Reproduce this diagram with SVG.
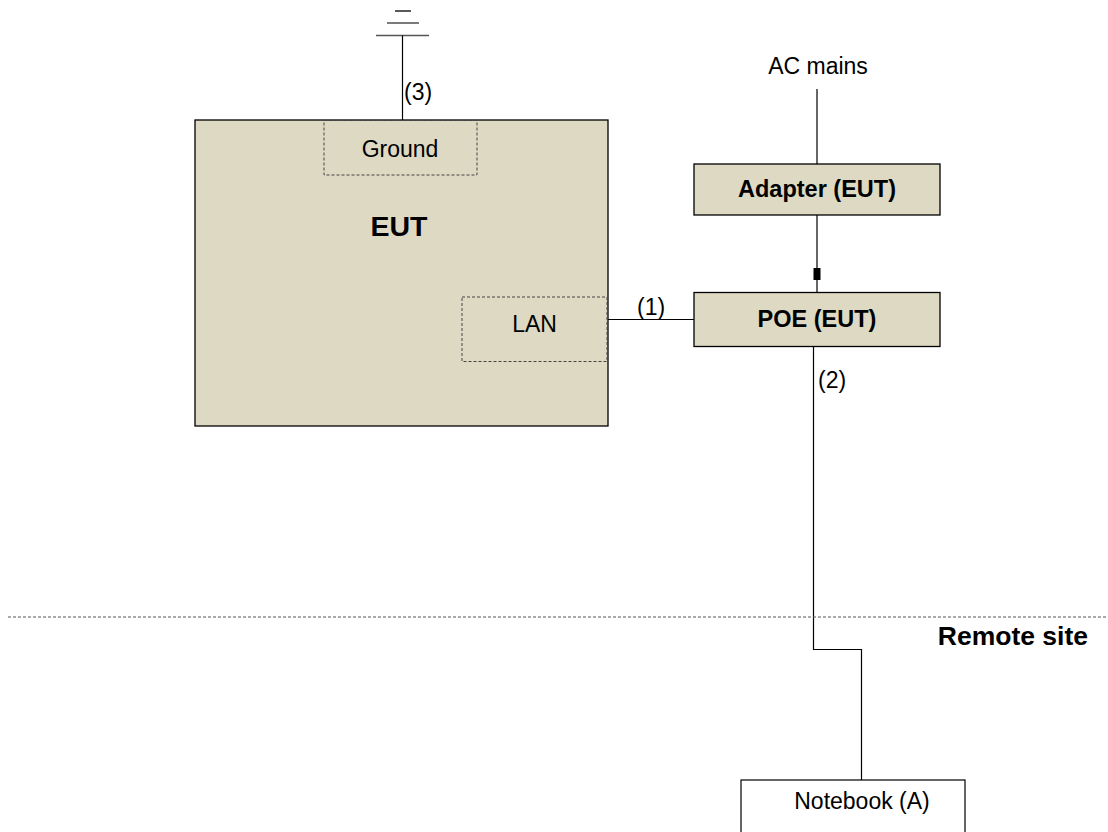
<svg xmlns="http://www.w3.org/2000/svg" width="1108" height="832" viewBox="0 0 1108 832">
<style>
text{font-family:"Liberation Sans",Arial,sans-serif;fill:#000}
.r{font-size:23px}
.b{font-size:23.5px;font-weight:bold}
.box{fill:#ddd9c3;stroke:#000;stroke-width:1.3}
.dash{fill:none;stroke:#444;stroke-width:1;stroke-dasharray:3,2}
.ln{fill:none;stroke:#000;stroke-width:1.2}
</style>
<rect width="1108" height="832" fill="#fff"/>
<g id="ground-symbol">
<line x1="395" y1="11" x2="411" y2="11" stroke="#000" stroke-width="1.3"/>
<line x1="387" y1="23" x2="419" y2="23" stroke="#333" stroke-width="1.3"/>
<line x1="376" y1="35.5" x2="429" y2="35.5" stroke="#555" stroke-width="1.3"/>
</g>
<g id="eut">
<rect class="box" x="195" y="120" width="413" height="306"/>
<text x="399" y="236" font-size="28.5" font-weight="bold" text-anchor="middle">EUT</text>
</g>
<g id="ground">
<rect class="dash" x="324" y="120.5" width="153" height="54.5"/>
<text class="r" x="400" y="157" text-anchor="middle">Ground</text>
</g>
<g id="lan">
<rect class="dash" x="462" y="297" width="145" height="64.5"/>
<text class="r" x="534.5" y="332" text-anchor="middle">LAN</text>
</g>
<g id="adapter">
<rect class="box" x="694" y="164" width="246" height="51"/>
<text class="b" x="817" y="197" text-anchor="middle">Adapter (EUT)</text>
</g>
<g id="poe">
<rect class="box" x="694" y="292.5" width="246" height="54"/>
<text class="b" x="817" y="327" text-anchor="middle">POE (EUT)</text>
</g>
<g id="notebook">
<rect x="741" y="780" width="224" height="60" fill="#fff" stroke="#000" stroke-width="1.2"/>
<text class="r" x="862" y="809" text-anchor="middle">Notebook (A)</text>
</g>
<g id="connectors">
<line class="ln" x1="402.5" y1="35.5" x2="402.5" y2="120"/>
<line class="ln" x1="817" y1="89" x2="817" y2="164"/>
<line class="ln" x1="817" y1="215" x2="817" y2="292.5"/>
<rect x="813.5" y="268" width="7" height="12" fill="#000"/>
<line class="ln" x1="608" y1="319.5" x2="694" y2="319.5"/>
<polyline class="ln" points="813.5,346.5 813.5,649.5 861.5,649.5 861.5,780"/>
<line x1="8" y1="617" x2="1108" y2="617" stroke="#555" stroke-width="1" stroke-dasharray="3,2"/>
</g>
<g id="labels">
<text class="r" x="818" y="74" text-anchor="middle">AC mains</text>
<text class="r" x="404" y="100">(3)</text>
<text class="r" x="637" y="315">(1)</text>
<text class="r" x="818" y="388">(2)</text>
<text x="1088" y="645" font-size="26.5" font-weight="bold" text-anchor="end">Remote site</text>
</g>
</svg>
